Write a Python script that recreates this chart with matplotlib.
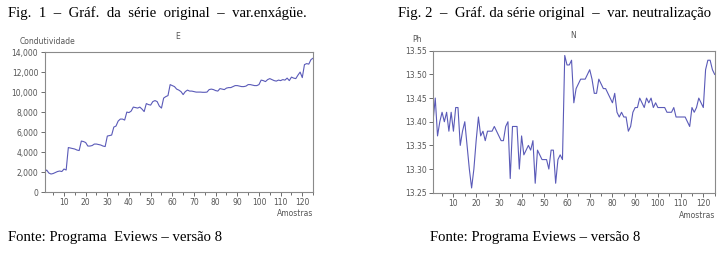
import numpy as np
import matplotlib
matplotlib.use("Agg")
import matplotlib.pyplot as plt
from matplotlib.ticker import MultipleLocator, FuncFormatter

# E - condutividade (enxague), amostras 1..125
cond = [2000, 2200, 1900, 1800, 1850, 1950, 2050, 2100, 2050, 2300,
        2200, 4450, 4400, 4350, 4300, 4200, 4150, 5100, 5050, 4950,
        4600, 4600, 4650, 4800, 4800, 4750, 4700, 4600, 4550, 5600,
        5650, 5700, 6500, 6600, 7100, 7300, 7300, 7200, 8000, 7950,
        8100, 8500, 8450, 8400, 8500, 8300, 8050, 8850, 8750, 8700,
        9050, 9150, 9050, 8600, 8400, 9400, 9550, 9650, 10750, 10650,
        10550, 10300, 10200, 10050, 9750, 10050, 10200, 10100, 10100, 10050,
        10000, 10000, 10000, 9980, 9980, 10000, 10250, 10300, 10250, 10150,
        10100, 10350, 10300, 10250, 10400, 10450, 10450, 10550, 10650, 10650,
        10600, 10550, 10550, 10600, 10750, 10750, 10700, 10650, 10650, 10750,
        11200, 11150, 11050, 11250, 11350, 11250, 11150, 11100, 11200, 11150,
        11250, 11200, 11400, 11150, 11500, 11400, 11350, 11700, 12000, 11450,
        12750, 12850, 12800, 13250, 13400]

# N - pH (neutralizacao)
ph = [13.40, 13.45, 13.37, 13.40, 13.42, 13.40, 13.42, 13.38, 13.42, 13.38,
      13.43, 13.43, 13.35, 13.38, 13.40, 13.35, 13.30, 13.26, 13.30, 13.36,
      13.41, 13.37, 13.38, 13.36, 13.38, 13.38, 13.38, 13.39, 13.38, 13.37,
      13.36, 13.36, 13.39, 13.40, 13.28, 13.39, 13.39, 13.39, 13.30, 13.37,
      13.33, 13.34, 13.35, 13.34, 13.36, 13.27, 13.34, 13.33, 13.32, 13.32,
      13.32, 13.30, 13.34, 13.34, 13.27, 13.32, 13.33, 13.32, 13.54, 13.52,
      13.52, 13.53, 13.44, 13.47, 13.48, 13.49, 13.49, 13.49, 13.50, 13.51,
      13.49, 13.46, 13.46, 13.49, 13.48, 13.47, 13.47, 13.46, 13.45, 13.44,
      13.46, 13.42, 13.41, 13.42, 13.41, 13.41, 13.38, 13.39, 13.42, 13.43,
      13.43, 13.45, 13.44, 13.43, 13.45, 13.44, 13.45, 13.43, 13.44, 13.43,
      13.43, 13.43, 13.43, 13.42, 13.42, 13.42, 13.43, 13.41, 13.41, 13.41,
      13.41, 13.41, 13.40, 13.39, 13.43, 13.42, 13.43, 13.45, 13.44, 13.43,
      13.51, 13.53, 13.53, 13.51, 13.50]

samples = np.arange(1, len(cond) + 1)

line_color = "#5a5ab8"
axis_color = "#8a8a8a"
tick_color = "#555555"


def style_axis(ax):
    for side in ["top", "right", "left", "bottom"]:
        ax.spines[side].set_color(axis_color)
        ax.spines[side].set_linewidth(0.8)
    ax.xaxis.set_major_locator(MultipleLocator(10))
    ax.xaxis.set_minor_locator(MultipleLocator(5))
    ax.tick_params(axis="both", which="major", direction="out", length=3,
                   width=0.6, color=tick_color, labelsize=5.5,
                   labelcolor=tick_color, pad=1.5)
    ax.tick_params(axis="x", which="minor", direction="out", length=2,
                   width=0.6, color=tick_color)
    ax.tick_params(top=False, right=False)
    ax.set_xlim(1, 125)


fig = plt.figure(figsize=(7.26, 2.60), dpi=100)

# left chart
ax1 = fig.add_axes([0.0613, 0.2615, 0.370, 0.538])
ax1.plot(samples, cond, color=line_color, linewidth=0.8)
style_axis(ax1)
ax1.set_ylim(0, 14000)
ax1.yaxis.set_major_locator(MultipleLocator(2000))
ax1.yaxis.set_major_formatter(FuncFormatter(lambda v, p: f"{int(v):,}"))
ax1.xaxis.set_major_formatter(FuncFormatter(lambda v, p: "" if v < 5 or v > 125 else f"{int(v)}"))

# right chart
ax2 = fig.add_axes([0.5964, 0.2588, 0.388, 0.546])
ax2.plot(samples, ph, color=line_color, linewidth=0.8)
style_axis(ax2)
ax2.set_ylim(13.25, 13.55)
ax2.yaxis.set_major_locator(MultipleLocator(0.05))
ax2.yaxis.set_major_formatter(FuncFormatter(lambda v, p: f"{v:.2f}"))
ax2.xaxis.set_major_formatter(FuncFormatter(lambda v, p: "" if v < 5 or v > 125 else f"{int(v)}"))

# small chart labels
small = dict(fontsize=5.5, color=tick_color, family="DejaVu Sans")
fig.text(178 / 726, 1 - 37 / 260, "E", ha="center", va="center", **small)
fig.text(20 / 726, 1 - 42 / 260, "Condutividade", ha="left", va="center", **small)
fig.text(313 / 726, 1 - 214 / 260, "Amostras", ha="right", va="center", **small)
fig.text(573 / 726, 1 - 36 / 260, "N", ha="center", va="center", **small)
fig.text(412 / 726, 1 - 40 / 260, "Ph", ha="left", va="center", **small)
fig.text(715 / 726, 1 - 216 / 260, "Amostras", ha="right", va="center", **small)

# captions
serif = dict(fontsize=10.6, color="black", family="Liberation Serif")
fig.text(8 / 726, 1 - 13 / 260, "Fig.  1  –  Gráf.  da  série  original  –  var.enxágüe.",
         ha="left", va="center", **serif)
fig.text(398 / 726, 1 - 13 / 260, "Fig. 2  –  Gráf. da série original  –  var. neutralização",
         ha="left", va="center", **serif)
fig.text(8 / 726, 1 - 238 / 260, "Fonte: Programa  Eviews – versão 8",
         ha="left", va="center", **serif)
fig.text(430 / 726, 1 - 238 / 260, "Fonte: Programa Eviews – versão 8",
         ha="left", va="center", **serif)

fig.savefig("out.png", dpi=100)
